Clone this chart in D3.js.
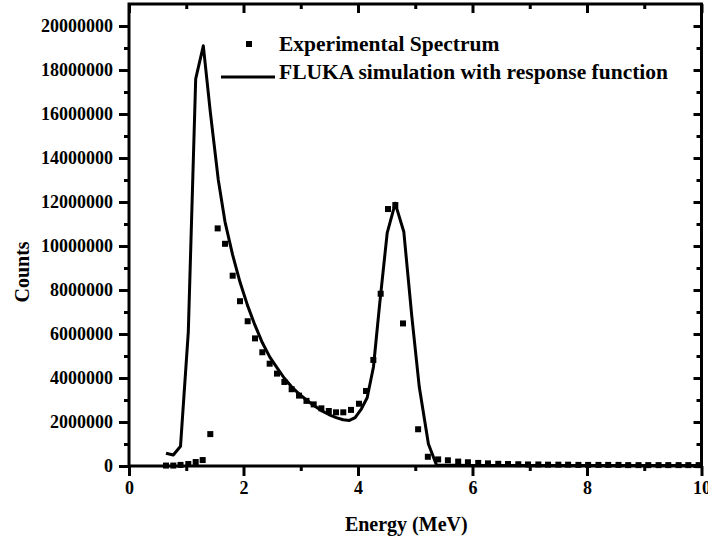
<!DOCTYPE html>
<html>
<head>
<meta charset="utf-8">
<script src="https://d3js.org/d3.v7.min.js"></script>
<style>
  body { margin: 0; background: #fff; }
  text { font-family: "Liberation Serif", "Times New Roman", serif; font-weight: bold; fill: #000; }
</style>
</head>
<body>
<script>
// Size of the picture
const W = 708, H = 539;
const margin = { left: 129, right: 7, top: 4, bottom: 73 };

// Experimental spectrum (energy in MeV, counts)
const expEnergy = [0.646, 0.774, 0.90, 1.036, 1.165, 1.287, 1.42, 1.549, 1.677, 1.811, 1.939, 2.073,
  2.201, 2.329, 2.457, 2.585, 2.714, 2.841, 2.97, 3.10, 3.226, 3.36, 3.49, 3.616, 3.743, 3.878,
  4.017, 4.14, 4.268, 4.396, 4.524, 4.652, 4.786, 5.05, 5.22, 5.40, 5.57, 5.75, 5.92, 6.10,
  6.27, 6.45, 6.62, 6.80, 6.97, 7.15, 7.32, 7.50, 7.67, 7.85, 8.02, 8.20, 8.37, 8.55, 8.72,
  8.90, 9.07, 9.25, 9.42, 9.60, 9.77, 9.95];
const expCounts = [20000, 20000, 50000, 90000, 180000, 270000, 1450000, 10800000, 10100000, 8650000,
  7490000, 6580000, 5800000, 5170000, 4650000, 4200000, 3820000, 3490000, 3200000, 2960000,
  2800000, 2620000, 2500000, 2440000, 2440000, 2550000, 2830000, 3410000, 4820000, 7830000,
  11680000, 11860000, 6480000, 1670000, 420000, 300000, 260000, 200000, 170000, 140000,
  120000, 100000, 90000, 80000, 70000, 70000, 60000, 60000, 60000, 50000, 50000, 50000,
  50000, 50000, 40000, 40000, 40000, 40000, 40000, 40000, 40000, 40000];

// FLUKA simulation with response function
const simEnergy = [0.646, 0.774, 0.90, 1.036, 1.165, 1.298, 1.42, 1.56, 1.677, 1.81, 1.94, 2.07,
  2.20, 2.33, 2.46, 2.59, 2.71, 2.84, 2.97, 3.10, 3.23, 3.36, 3.49, 3.62, 3.74, 3.85, 3.95,
  4.06, 4.16, 4.27, 4.38, 4.51, 4.65, 4.80, 4.94, 5.07, 5.23, 5.37, 6.0, 8.0, 10.0];
const simCounts = [580000, 500000, 900000, 6100000, 17600000, 19100000, 16100000, 13000000,
  11100000, 9600000, 8350000, 7300000, 6400000, 5600000, 4950000, 4450000, 4000000, 3600000,
  3280000, 3000000, 2750000, 2520000, 2340000, 2200000, 2100000, 2070000, 2200000, 2600000,
  3100000, 4500000, 7400000, 10600000, 11940000, 10650000, 6800000, 3600000, 1000000, 50000,
  20000, 20000, 20000];

// Axis ticks and labels
const xMajor = [0, 2, 4, 6, 8, 10];
const xMinor = [1, 3, 5, 7, 9];
const yMajor = [0, 2000000, 4000000, 6000000, 8000000, 10000000, 12000000, 14000000, 16000000, 18000000, 20000000];
const yMinor = [1000000, 3000000, 5000000, 7000000, 9000000, 11000000, 13000000, 15000000, 17000000, 19000000];

const legendLabels = ["Experimental Spectrum", "FLUKA simulation with response function"];

const x = d3.scaleLinear().domain([0, 10]).range([0, 572.5]);
const y = d3.scaleLinear().domain([0, 21000000]).range([462, 0]);

const svg = d3.select("body").append("svg")
  .attr("width", W).attr("height", H);

const g = svg.append("g")
  .attr("transform", "translate(" + margin.left + "," + margin.top + ")");

// clip so nothing spills past the frame
g.append("clipPath").attr("id", "plot")
  .append("rect").attr("width", x(10)).attr("height", y(0));

// simulation line
g.append("path")
  .datum(simEnergy.map((e, i) => ({ e: e, c: simCounts[i] })))
  .attr("clip-path", "url(#plot)")
  .attr("fill", "none")
  .attr("stroke", "#000")
  .attr("stroke-width", 3)
  .attr("stroke-linejoin", "round")
  .attr("d", d3.line().x(d => x(d.e)).y(d => y(d.c)));

// experimental points
g.selectAll("rect.pt")
  .data(expEnergy.map((e, i) => ({ e: e, c: expCounts[i] })))
  .enter().append("rect")
  .attr("class", "pt")
  .attr("x", d => x(d.e) - 3)
  .attr("y", d => y(d.c) - 3)
  .attr("width", 6).attr("height", 6)
  .attr("fill", "#000");

// axes: bottom and left outward, top and right inward
const fmt = d3.format("d");
function styleAxis(sel) {
  sel.select(".domain").remove();
  sel.selectAll(".tick line").attr("stroke", "#000").attr("stroke-width", 3);
  sel.selectAll(".tick text").style("font-size", "18px").style("font-family", "Liberation Serif").style("font-weight", "bold");
}

g.append("g").attr("transform", "translate(0," + y(0) + ")")
  .call(d3.axisBottom(x).tickValues(xMajor).tickSize(10).tickPadding(5).tickFormat(fmt))
  .call(styleAxis);
g.append("g").attr("transform", "translate(0," + y(0) + ")")
  .call(d3.axisBottom(x).tickValues(xMinor).tickSize(5).tickFormat(""))
  .call(styleAxis);

g.append("g")
  .call(d3.axisLeft(y).tickValues(yMajor).tickSize(10).tickPadding(6).tickFormat(fmt))
  .call(styleAxis);
g.append("g")
  .call(d3.axisLeft(y).tickValues(yMinor).tickSize(5).tickFormat(""))
  .call(styleAxis);

g.append("g")
  .call(d3.axisBottom(x).tickValues(xMajor).tickSize(9).tickFormat(""))
  .call(styleAxis);
g.append("g")
  .call(d3.axisBottom(x).tickValues(xMinor).tickSize(5).tickFormat(""))
  .call(styleAxis);

g.append("g").attr("transform", "translate(" + x(10) + ",0)")
  .call(d3.axisLeft(y).tickValues(yMajor).tickSize(8).tickFormat(""))
  .call(styleAxis);
g.append("g").attr("transform", "translate(" + x(10) + ",0)")
  .call(d3.axisLeft(y).tickValues(yMinor).tickSize(5).tickFormat(""))
  .call(styleAxis);

// frame
g.append("rect")
  .attr("x", 0).attr("y", 0)
  .attr("width", x(10)).attr("height", y(0))
  .attr("fill", "none").attr("stroke", "#000").attr("stroke-width", 3);

// legend
const leg = g.append("g");
leg.append("rect").attr("x", 117).attr("y", 37).attr("width", 6).attr("height", 6).attr("fill", "#000");
leg.append("line").attr("x1", 92).attr("x2", 146).attr("y1", 73).attr("y2", 73)
  .attr("stroke", "#000").attr("stroke-width", 3);
leg.selectAll("text").data(legendLabels).enter().append("text")
  .attr("x", 150)
  .attr("y", (d, i) => 47 + i * 28)
  .style("font-size", "21.5px")
  .text(d => d);

// axis titles
svg.append("text")
  .attr("x", margin.left + x(5) - 9).attr("y", 531)
  .attr("text-anchor", "middle")
  .style("font-size", "20px")
  .text("Energy (MeV)");

svg.append("text")
  .attr("transform", "translate(29,272) rotate(-90)")
  .attr("text-anchor", "middle")
  .style("font-size", "20px")
  .text("Counts");
</script>
</body>
</html>
